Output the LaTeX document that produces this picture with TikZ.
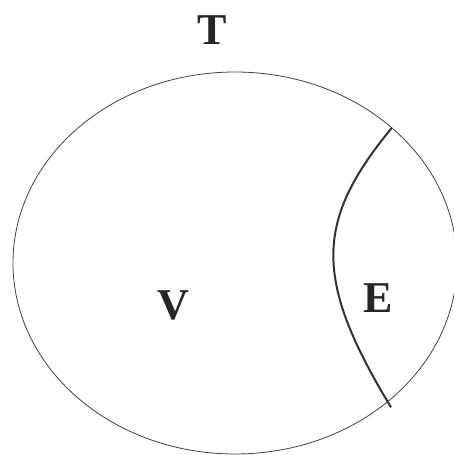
\documentclass[tikz,border=0pt]{standalone}
\usepackage{fontspec}
\setmainfont{Liberation Serif}[BoldFont={Liberation Serif Bold}]
\newfontfamily\lblfont{Liberation Serif Bold}
\begin{document}
\begin{tikzpicture}[x=1pt,y=-1pt,
  lbl/.style={font=\lblfont\fontsize{44}{44}\selectfont, text=black!85, inner sep=0pt},
  outline/.style={draw=black!75, line width=0.8pt},
  divider/.style={draw=black!80, line width=2pt}]
\useasboundingbox (0,0) rectangle (454,455);
\path[outline] (235,263) ellipse [x radius=222, y radius=191];
\coordinate (top) at (391.7,128);
\coordinate (bot) at (391,407.3);
\path[divider] (top) .. controls (314,222) and (314,280) .. (bot);
\node[lbl] (T) at (212,30) {T};
\node[lbl] (V) at (173,305) {V};
\node[lbl] (E) at (378,298) {E};
\end{tikzpicture}
\end{document}
